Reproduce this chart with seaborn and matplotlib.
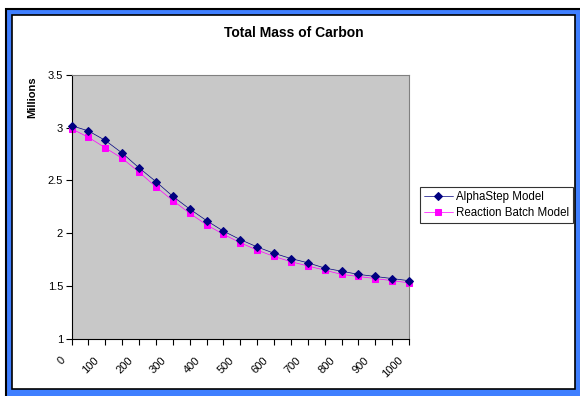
import numpy as np
import pandas as pd
import seaborn as sns
import matplotlib
matplotlib.use("Agg")
import matplotlib.pyplot as plt
from matplotlib.patches import Rectangle
from matplotlib.transforms import ScaledTranslation

time_steps = [0, 50, 100, 150, 200, 250, 300, 350, 400, 450, 500,
              550, 600, 650, 700, 750, 800, 850, 900, 950, 1000]
alphastep = [3.02, 2.97, 2.88, 2.76, 2.62, 2.49, 2.35, 2.23, 2.12, 2.02, 1.94,
             1.87, 1.81, 1.76, 1.72, 1.67, 1.64, 1.61, 1.59, 1.57, 1.55]
reaction_batch = [2.99, 2.91, 2.81, 2.71, 2.58, 2.44, 2.31, 2.19, 2.08, 1.99, 1.91,
                  1.84, 1.78, 1.73, 1.69, 1.65, 1.61, 1.59, 1.57, 1.55, 1.53]
series_names = ["AlphaStep Model", "Reaction Batch Model"]
x_tick_labels = ["0", "100", "200", "300", "400", "500", "600", "700", "800", "900", "1000"]
title = "Total Mass of Carbon"
y_label = "Millions"

sns.set_style("white")
plt.rcParams['font.family'] = ['Liberation Sans', 'DejaVu Sans']
plt.rcParams['text.color'] = 'black'
plt.rcParams['xtick.color'] = 'black'
plt.rcParams['ytick.color'] = 'black'

W, H = 580, 396
fig = plt.figure(figsize=(W / 100, H / 100), dpi=100)

def px(x0, y0, x1, y1):
    return (x0 / W, 1 - y1 / H, (x1 - x0) / W, (y1 - y0) / H)

# frame
bx, by, bw, bh = px(6, 9, 582, 398)
fig.patches.append(Rectangle((bx, by), bw, bh, transform=fig.transFigure,
                             facecolor="#3F7FFF", edgecolor="black", lw=1.5, zorder=-2))
wx, wy, ww, wh = px(12, 15, 575, 389)
fig.patches.append(Rectangle((wx, wy), ww, wh, transform=fig.transFigure,
                             facecolor="white", edgecolor="black", lw=1.2, zorder=-1))

ax = fig.add_axes(px(71.5, 75, 409, 338.7))
ax.set_zorder(1)
ax.set_facecolor("#C8C8C8")

df = pd.DataFrame({"x": time_steps + time_steps,
                   "y": alphastep + reaction_batch,
                   "series": [series_names[0]] * len(time_steps) + [series_names[1]] * len(time_steps)})

sns.lineplot(data=df[df.series == series_names[0]], x="x", y="y", ax=ax,
             color="#000080", marker="D", markersize=3.6, lw=0.5,
             markeredgecolor="#000080", label=series_names[0])
sns.lineplot(data=df[df.series == series_names[1]], x="x", y="y", ax=ax,
             color="#FF00FF", marker="s", markersize=4.2, lw=0.5,
             markeredgecolor="#FF00FF", label=series_names[1])
for l in ax.lines:
    l.set_clip_on(False)
ax.lines[0].set_zorder(4)

ax.set_xlim(0, 1000)
ax.set_ylim(1, 3.5)
ax.set_yticks([1, 1.5, 2, 2.5, 3, 3.5])
ax.set_yticklabels(["1", "1.5", "2", "2.5", "3", "3.5"])
ax.set_xticks(list(range(0, 1001, 100)))
ax.set_xticks(time_steps, minor=True)
ax.set_xticklabels(x_tick_labels, rotation=45, ha="right", va="center",
                   rotation_mode="anchor")
ax.tick_params(axis="both", which="both", direction="out", length=4, width=0.8,
               color="black", labelsize=8, bottom=True, left=True)
ax.tick_params(axis="x", which="major", pad=4)
ax.tick_params(axis="y", pad=2)
off = ScaledTranslation(-8 / 100, -9 / 100, fig.dpi_scale_trans)
for lab in ax.get_xticklabels():
    lab.set_transform(lab.get_transform() + off)
ax.set_xlabel("")
ax.set_ylabel("")
for s in ["top", "right"]:
    ax.spines[s].set_color("#808080")
    ax.spines[s].set_linewidth(0.8)
for s in ["left", "bottom"]:
    ax.spines[s].set_color("black")
    ax.spines[s].set_linewidth(0.8)

fig.text(294 / W, 1 - 33 / H, title, ha="center", va="center",
         fontsize=10, fontweight="bold")
fig.text(32 / W, 1 - 97 / H, y_label, ha="center", va="center",
         rotation=90, fontsize=8, fontweight="bold")

leg = ax.legend(loc="upper left", bbox_to_anchor=(420 / W, 1 - 187 / H),
                bbox_transform=fig.transFigure, frameon=True, fancybox=False,
                fontsize=8.3, handlelength=2.5, handletextpad=0.3,
                borderpad=0.35, labelspacing=0.35, borderaxespad=0)
leg.get_frame().set_edgecolor("black")
leg.get_frame().set_linewidth(0.8)

fig.savefig("out.png", dpi=100)
